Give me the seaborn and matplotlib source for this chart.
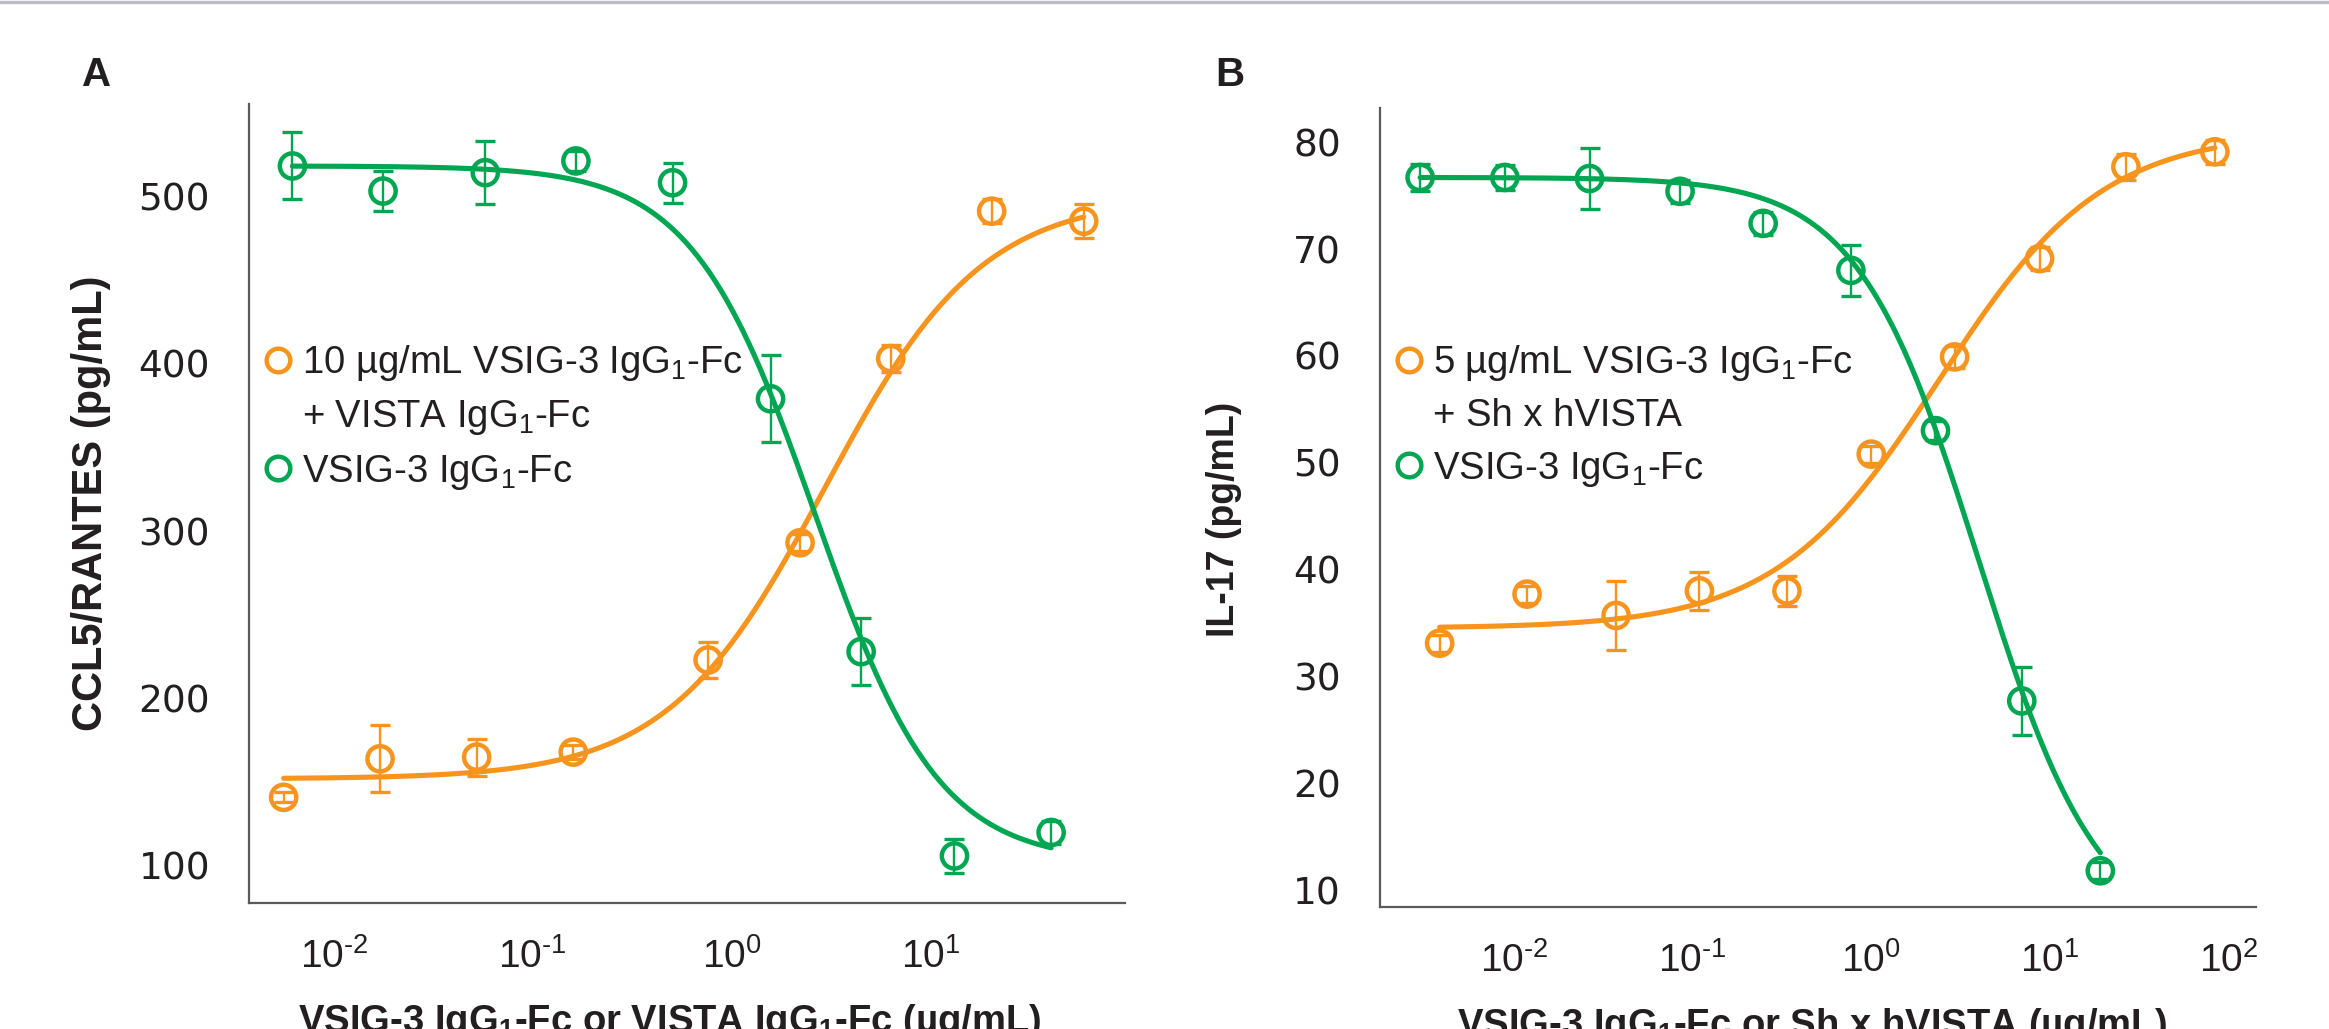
import numpy as np
import pandas as pd
import matplotlib
matplotlib.use("Agg")
import matplotlib.pyplot as plt
import seaborn as sns
from matplotlib.lines import Line2D
from matplotlib.ticker import FixedLocator, LogLocator, NullFormatter, FuncFormatter

# ---------------- data ----------------
# Panel A: CCL5/RANTES
a_green_x = [0.0062, 0.0177, 0.0578, 0.165, 0.505, 1.57, 4.48, 13.2, 40.4]
a_green_y = [518, 503, 514, 521, 508, 379, 228, 106, 120]
a_green_err = [20, 12, 19, 6, 12, 26, 20, 10, 7]
a_orange_x = [0.0056, 0.0171, 0.0523, 0.160, 0.762, 2.21, 6.31, 20.3, 58.9]
a_orange_y = [141, 164, 165, 168, 223, 293, 403, 491, 485]
a_orange_err = [3, 20, 11, 4, 11, 5, 8, 7, 10]
# fitted 4PL curve parameters: bottom, top, EC50, hill (negative = decreasing)
a_green_fit = [102, 518, 2.63, -1.4]
a_orange_fit = [152, 500, 2.95, 1.1]

# Panel B: IL-17
b_green_x = [0.00297, 0.00886, 0.0264, 0.0849, 0.248, 0.769, 2.29, 6.97, 19.2]
b_green_y = [76.7, 76.7, 76.6, 75.4, 72.4, 68.0, 53.0, 27.7, 11.8]
b_green_err = [1.3, 1.2, 2.9, 1.1, 1.1, 2.4, 0.9, 3.2, 0.8]
b_orange_x = [0.00382, 0.0118, 0.0372, 0.109, 0.337, 1.0, 2.93, 8.77, 26.7, 84.1]
b_orange_y = [33.1, 37.7, 35.7, 38.0, 38.0, 50.8, 59.9, 69.1, 77.7, 79.1]
b_orange_err = [0.8, 0.8, 3.2, 1.8, 1.4, 0.8, 1.0, 1.1, 1.2, 1.1]
b_green_fit = [5, 76.7, 4.0, -1.28]
b_orange_fit = [34.5, 81, 2.4, 0.95]

a_yticks = [100, 200, 300, 400, 500]
b_yticks = [10, 20, 30, 40, 50, 60, 70, 80]

a_legend = ["10 µg/mL VSIG-3 IgG$_1$-Fc", "+ VISTA IgG$_1$-Fc", "VSIG-3 IgG$_1$-Fc"]
b_legend = ["5 µg/mL VSIG-3 IgG$_1$-Fc", "+ Sh x hVISTA", "VSIG-3 IgG$_1$-Fc"]
a_ylabel = "CCL5/RANTES (pg/mL)"
b_ylabel = "IL-17 (pg/mL)"
a_xlabel = "VSIG-3 IgG$_\\mathbf{1}$-Fc or VISTA IgG$_\\mathbf{1}$-Fc (µg/mL)"
b_xlabel = "VSIG-3 IgG$_\\mathbf{1}$-Fc or Sh x hVISTA (µg/mL)"

# ---------------- style ----------------
ORANGE = "#F7941D"
GREEN = "#00A651"
TEXT = "#231F20"
SPINE = "#5a5a5a"
TICK = "#9a9a9a"

sns.set_style("white")
plt.rcParams["font.family"] = ["Liberation Sans", "DejaVu Sans"]
plt.rcParams["mathtext.fontset"] = "custom"
plt.rcParams["mathtext.rm"] = "Liberation Sans"
plt.rcParams["mathtext.it"] = "Liberation Sans:italic"
plt.rcParams["mathtext.bf"] = "Liberation Sans:bold"
plt.rcParams["mathtext.default"] = "regular"
plt.rcParams["axes.unicode_minus"] = False
plt.rcParams["text.color"] = TEXT

W, H = 2329, 1029
fig = plt.figure(figsize=(W / 100, H / 100), dpi=100)
fig.patch.set_facecolor("white")
axA = fig.add_axes([249 / W, 1 - 903 / H, 876 / W, 799 / H])
axB = fig.add_axes([1380 / W, 1 - 907 / H, 876 / W, 799 / H])

# thin grey rule at the top of the figure
fig.add_artist(Line2D([0, 1], [1 - 1.5 / H] * 2, transform=fig.transFigure,
                      color="#bcbcc4", lw=2.4))


def log_label(v, pos):
    e = int(round(np.log10(v)))
    if e < 0:
        return r"$\mathdefault{10^{\text{-}%d}}$" % (-e)
    return r"$\mathdefault{10^{%d}}$" % e


def draw_series(ax, x, y, err, fit, color, z):
    ax.errorbar(x, y, yerr=err, fmt="none", ecolor=color, elinewidth=1.7,
                capsize=7, capthick=2.4, zorder=z)
    sns.scatterplot(x=x, y=y, ax=ax, s=330, color=color, facecolor="none",
                    edgecolor=color, linewidth=3.2, zorder=z + 1, legend=False)
    b, t, ec, h = fit
    xs = np.logspace(np.log10(min(x)), np.log10(max(x)), 400)
    df = pd.DataFrame({"x": xs, "y": b + (t - b) / (1 + (ec / xs) ** h)})
    sns.lineplot(data=df, x="x", y="y", ax=ax, color=color, lw=3.7,
                 zorder=z + 2, estimator=None, sort=False)


def style_axes(ax, xlim, ylim, yticks, ylabel, xlabel, ylab_y, xlab_x, ylab_size):
    ax.set_xscale("log")
    ax.set_xlim(*xlim)
    ax.set_ylim(*ylim)
    ax.yaxis.set_major_locator(FixedLocator(yticks))
    ax.xaxis.set_major_locator(LogLocator(base=10, numticks=20))
    ax.xaxis.set_major_formatter(FuncFormatter(log_label))
    ax.xaxis.set_minor_locator(LogLocator(base=10, subs=np.arange(2, 10), numticks=20))
    ax.xaxis.set_minor_formatter(NullFormatter())
    for s in ["top", "right"]:
        ax.spines[s].set_visible(False)
    for s in ["left", "bottom"]:
        ax.spines[s].set_color(SPINE)
        ax.spines[s].set_linewidth(1.6)
    ax.tick_params(axis="y", which="major", direction="out", length=18, width=1.1,
                   color=TICK, pad=10, labelsize=27, labelcolor=TEXT)
    ax.tick_params(axis="x", which="major", direction="out", length=16, width=1.1,
                   color=TICK, pad=9, labelsize=28, labelcolor=TEXT)
    ax.tick_params(axis="x", which="minor", direction="out", length=8.5, width=1.1,
                   color=TICK)
    for lab in ax.get_yticklabels():
        lab.set_fontfamily(["DejaVu Sans"])
    ax.set_ylabel(ylabel, fontsize=ylab_size, fontweight="bold", color=TEXT)
    ax.yaxis.set_label_coords(-0.158, ylab_y)
    ax.set_xlabel(xlabel, fontsize=27.5, fontweight="bold", color=TEXT, va="top")
    ax.xaxis.set_label_coords(xlab_x, -0.124)
    ax.set_facecolor("white")


def add_legend(ax, labels, left_px, top_px):
    handles = [
        Line2D([], [], ls="", marker="o", ms=17, mfc="none", mec=ORANGE, mew=3.2),
        Line2D([], [], ls="", marker=None),
        Line2D([], [], ls="", marker="o", ms=17, mfc="none", mec=GREEN, mew=3.2),
    ]
    ax.legend(handles, labels, loc="upper left",
              bbox_to_anchor=(left_px / W, 1 - top_px / H),
              bbox_transform=fig.transFigure, frameon=False, fontsize=27.5,
              handlelength=1.0, handletextpad=0.13, labelspacing=0.4,
              borderpad=0, borderaxespad=0)


# Panel A
draw_series(axA, a_orange_x, a_orange_y, a_orange_err, a_orange_fit, ORANGE, 3)
draw_series(axA, a_green_x, a_green_y, a_green_err, a_green_fit, GREEN, 6)
style_axes(axA, (3.75e-3, 95), (77.9, 555), a_yticks, a_ylabel, a_xlabel, 0.5, 0.48, 30)
add_legend(axA, a_legend, 259, 343)

# Panel B
draw_series(axB, b_orange_x, b_orange_y, b_orange_err, b_orange_fit, ORANGE, 3)
draw_series(axB, b_green_x, b_green_y, b_green_err, b_green_fit, GREEN, 6)
style_axes(axB, (1.77e-3, 143), (8.41, 83.2), b_yticks, b_ylabel, b_xlabel, 0.485, 0.493, 27)
add_legend(axB, b_legend, 1390, 343)

# panel letters
fig.text(82 / W, 1 - 86 / H, "A", fontsize=29, fontweight="bold", color=TEXT,
         ha="left", va="baseline")
fig.text(1215 / W, 1 - 86 / H, "B", fontsize=29, fontweight="bold", color=TEXT,
         ha="left", va="baseline")

fig.savefig("out.png", dpi=100, facecolor="white")
